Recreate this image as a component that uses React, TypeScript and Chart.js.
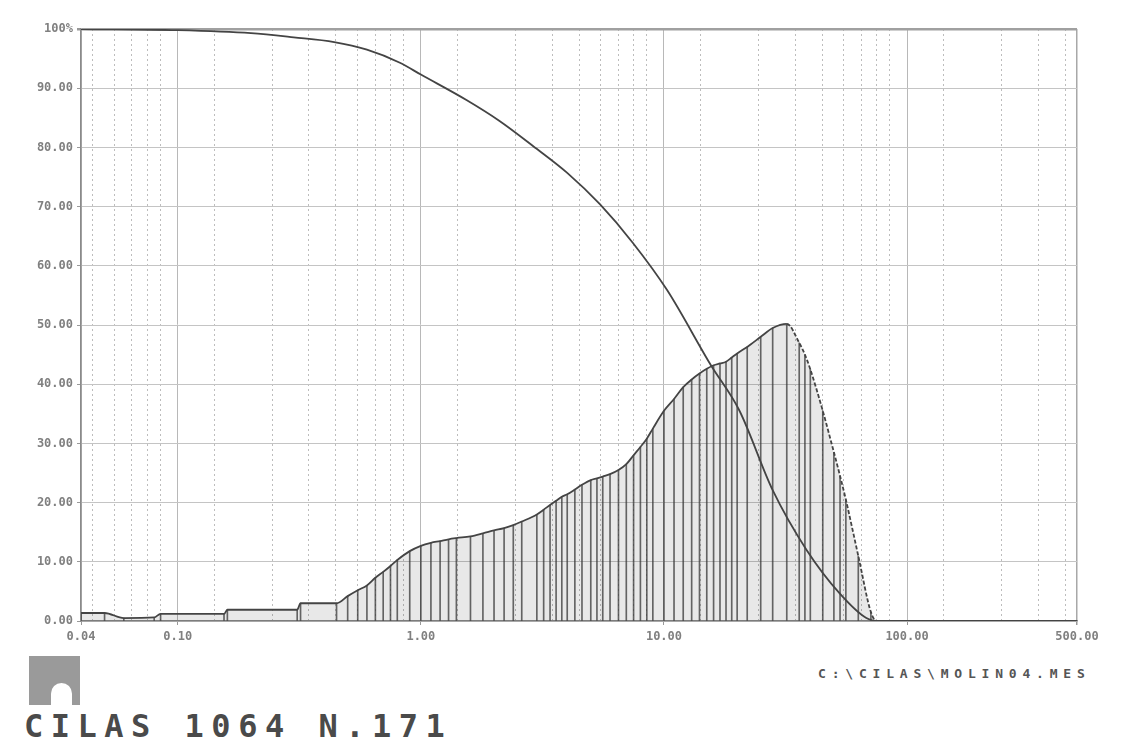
import React, { useEffect, useRef } from "react";
import { Chart, registerables } from "chart.js";

Chart.register(...registerables);

// Particle size classes (µm) where the distribution curve was read, and its values (%)
const distSizes = [
  0.04, 0.05, 0.06, 0.08, 0.085, 0.155, 0.16, 0.31, 0.32, 0.45, 0.5, 0.55, 0.6, 0.65, 0.7, 0.75,
  0.8, 0.9, 1.0, 1.1, 1.2, 1.3, 1.4, 1.6, 1.8, 2.0, 2.2, 2.4, 2.6, 3.0, 3.2, 3.4, 3.6, 3.8, 4.0,
  4.3, 4.6, 5.0, 5.3, 5.6, 6.0, 6.5, 7.0, 7.5, 8.0, 8.5, 9.0, 10, 11, 12, 13, 14, 15, 16, 17, 18,
  19, 20, 22, 25, 28, 32, 36, 38, 40, 45, 50, 53, 56, 63, 71, 75, 80, 90, 100, 125, 150, 200, 300,
  400, 500,
];
const distValues = [
  1.35, 1.35, 0.5, 0.6, 1.2, 1.2, 1.9, 1.9, 3.0, 3.0, 4.2, 5.2, 6.0, 7.3, 8.3, 9.3,
  10.3, 11.8, 12.7, 13.2, 13.5, 13.8, 14.0, 14.3, 14.8, 15.3, 15.7, 16.2, 16.8, 18.0, 18.8, 19.6, 20.3, 21.0, 21.4,
  22.2, 23.0, 23.8, 24.1, 24.4, 24.8, 25.5, 26.5, 28.0, 29.4, 30.8, 32.5, 35.5, 37.5, 39.5, 40.8, 41.8, 42.6, 43.2, 43.5, 43.8,
  44.5, 45.2, 46.3, 48.0, 49.5, 50.2, 47.0, 45.0, 42.5, 35.5, 28.5, 24.5, 20.5, 11.0, 1.5, 0, 0, 0, 0, 0, 0, 0, 0,
  0, 0,
];

// Cumulative curve (%)
const cumSizes = [0.04, 0.1, 0.2, 0.3, 0.44, 0.6, 0.82, 1.0, 1.54, 2.1, 2.9, 4.0, 5.45, 7.44, 10.3, 15.6, 20.4, 28, 38.6, 52.7, 68, 77, 500];
const cumValues = [100, 99.8, 99.3, 98.6, 97.8, 96.5, 94.3, 92.3, 88.0, 84.5, 80.2, 75.7, 70.4, 63.9, 55.9, 43.2, 35.6, 22.1, 12.0, 4.7, 0.5, 0, 0];

// Axis ticks
const xLabelTicks = [0.04, 0.1, 1, 10, 100, 500];
const xLabelTexts = ["0.04", "0.10", "1.00", "10.00", "100.00", "500.00"];
const yTicks = [0, 10, 20, 30, 40, 50, 60, 70, 80, 90, 100];
const yLabelTexts = ["0.00", "10.00", "20.00", "30.00", "40.00", "50.00", "60.00", "70.00", "80.00", "90.00", "100%"];
const decades = [0.01, 0.1, 1, 10, 100];
const multiples = [1, 2, 3, 4, 5, 6, 7, 8, 9];

const fileName = "C:\\CILAS\\MOLIN04.MES";
const title = "CILAS 1064 N.171";

const X_MIN = 0.04;
const X_MAX = 500;

export default function App() {
  const canvasRef = useRef<HTMLCanvasElement | null>(null);

  useEffect(() => {
    const canvas = canvasRef.current;
    if (!canvas) return;

    const gridVals: number[] = [];
    decades.forEach((d) =>
      multiples.forEach((m) => {
        const v = +(d * m).toPrecision(6);
        if (v >= X_MIN && v <= X_MAX) gridVals.push(v);
      })
    );

    const distData = distSizes.map((x, i) => ({ x, y: distValues[i] }));
    const cumData = cumSizes.map((x, i) => ({ x, y: cumValues[i] }));

    const tickFont = { family: "'DejaVu Sans Mono', monospace", size: 12, weight: "bold" as const };

    const chart = new Chart(canvas, {
      type: "line",
      data: {
        datasets: [
          {
            type: "line",
            label: "cumulative",
            data: cumData,
            borderColor: "#444",
            borderWidth: 1.8,
            pointRadius: 0,
            cubicInterpolationMode: "monotone",
            fill: false,
            order: 1,
          },
          {
            type: "line",
            label: "distribution",
            data: distData,
            borderColor: "#444",
            borderWidth: 1.8,
            pointRadius: 0,
            cubicInterpolationMode: "monotone",
            fill: { target: "origin", above: "rgba(0,0,0,0.09)" },
            segment: {
              borderDash: (ctx: any) => (ctx.p0.parsed.x >= 32 && ctx.p0.parsed.x < 75 ? [4, 2] : undefined),
            },
            order: 2,
          },
          {
            type: "bar",
            label: "hatch",
            data: distData,
            backgroundColor: "rgba(60,60,60,0.75)",
            barThickness: 1,
            order: 3,
          } as any,
        ],
      },
      options: {
        responsive: false,
        animation: false,
        events: [],
        layout: { padding: { left: 0, top: 29, right: 55, bottom: 0 } },
        plugins: { legend: { display: false }, tooltip: { enabled: false } },
        scales: {
          x: {
            type: "logarithmic",
            position: "bottom",
            min: X_MIN,
            max: X_MAX,
            afterBuildTicks: (s: any) => {
              s.ticks = gridVals.map((v) => ({ value: v }));
            },
            afterFit: (s: any) => {
              s.height = 0;
            },
            ticks: { display: false },
            grid: {
              color: (c: any) => {
                const v = c.tick?.value;
                const isDec = decades.some((d) => Math.abs(v - d) < 1e-9);
                return isDec ? "rgba(0,0,0,0)" : "#bdbdbd";
              },
              lineWidth: 1,
              drawTicks: false,
            },
            border: { display: false, dash: [2, 3] },
          },
          x2: {
            type: "logarithmic",
            position: "bottom",
            min: X_MIN,
            max: X_MAX,
            afterBuildTicks: (s: any) => {
              s.ticks = xLabelTicks.map((v) => ({ value: v }));
            },
            afterFit: (s: any) => {
              s.height = 29;
            },
            ticks: {
              autoSkip: false,
              maxRotation: 0,
              padding: 5,
              color: "#808080",
              font: tickFont,
              callback: (v: any) => {
                const i = xLabelTicks.findIndex((t) => Math.abs(t - Number(v)) < 1e-9);
                return i >= 0 ? xLabelTexts[i] : "";
              },
            },
            grid: {
              color: (c: any) => (c.tick?.value === X_MAX ? "#a8a8a8" : "#b8b8b8"),
              lineWidth: (c: any) => (c.tick?.value === X_MAX ? 1.5 : 1),
              tickLength: 4,
              tickColor: "#999",
            },
            border: { display: true, color: "#8a8a8a", width: 1.5 },
          },
          y: {
            type: "linear",
            min: 0,
            max: 100,
            afterBuildTicks: (s: any) => {
              s.ticks = yTicks.map((v) => ({ value: v }));
            },
            afterFit: (s: any) => {
              s.width = 81;
            },
            ticks: {
              padding: 4,
              color: "#808080",
              font: tickFont,
              callback: (v: any) => {
                const i = yTicks.indexOf(Number(v));
                return i >= 0 ? yLabelTexts[i] : "";
              },
            },
            grid: {
              color: (c: any) => (c.tick?.value === 100 ? "#a0a0a0" : "#c4c4c4"),
              lineWidth: (c: any) => (c.tick?.value === 100 ? 2.5 : 1),
              tickLength: 4,
              tickColor: "#999",
            },
            border: { display: true, color: "#8a8a8a", width: 1.5 },
          },
        },
      },
    } as any);

    return () => chart.destroy();
  }, []);

  return (
    <div
      style={{
        position: "fixed",
        left: 0,
        top: 0,
        width: 1132,
        height: 740,
        background: "#fff",
        overflow: "hidden",
      }}
    >
      <canvas ref={canvasRef} width={1132} height={650} style={{ position: "absolute", left: 0, top: 0 }} />
      <div
        style={{
          position: "absolute",
          left: 818,
          top: 667,
          fontFamily: "'DejaVu Sans Mono', monospace",
          fontWeight: "bold",
          fontSize: 13,
          lineHeight: "13px",
          letterSpacing: "5.8px",
          color: "#555",
          whiteSpace: "pre",
        }}
      >
        {fileName}
      </div>
      <div
        style={{
          position: "absolute",
          left: 29,
          top: 656,
          width: 51,
          height: 49,
          background: "#9a9a9a",
        }}
      >
        <div
          style={{
            position: "absolute",
            left: 22,
            top: 27,
            width: 21,
            height: 22,
            background: "#fff",
            borderRadius: "11px 11px 0 0",
          }}
        />
      </div>
      <div
        style={{
          position: "absolute",
          left: 24,
          top: 710,
          fontFamily: "'DejaVu Sans Mono', monospace",
          fontWeight: "bold",
          fontSize: 32,
          lineHeight: "32px",
          letterSpacing: "7.5px",
          color: "#4a4a4a",
          whiteSpace: "pre",
        }}
      >
        {title}
      </div>
    </div>
  );
}
